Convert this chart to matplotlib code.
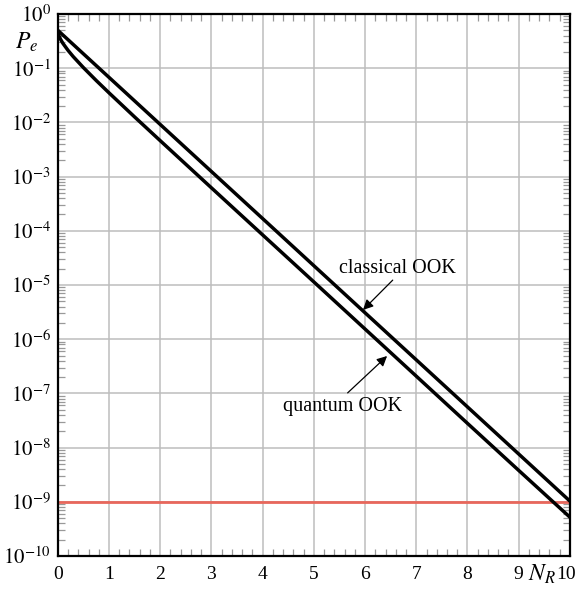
import matplotlib
matplotlib.use("Agg")
import matplotlib.pyplot as plt
import matplotlib.transforms as mtransforms
from matplotlib.ticker import LogLocator, MultipleLocator, NullFormatter

plt.rcParams['font.family'] = ['Liberation Serif', 'DejaVu Serif']
plt.rcParams['mathtext.fontset'] = 'stix'

# data
nr_classical = [0, 1, 2, 3, 4, 5, 6, 7, 8, 9, 10]
pe_classical = [0.5, 0.0677, 0.00916, 1.24e-3, 1.68e-4, 2.27e-5, 3.07e-6, 4.16e-7, 5.63e-8, 7.62e-9, 1.03e-9]

nr_quantum = [0, 0.02, 0.05, 0.1, 0.2, 0.3, 0.5, 0.75, 1, 1.5, 2, 3, 4, 5, 6, 7, 8, 9, 10]
pe_quantum = [0.5, 0.401, 0.346, 0.287, 0.213, 0.164, 0.1025, 0.0593, 0.0351, 0.0126, 0.0046,
              6.2e-4, 8.4e-5, 1.14e-5, 1.54e-6, 2.08e-7, 2.8e-8, 3.8e-9, 5.2e-10]

threshold = 1e-9
x_ticks = [0, 1, 2, 3, 4, 5, 6, 7, 8, 9, 10]
y_exps = list(range(0, -11, -1))

fig = plt.figure(figsize=(5.78, 5.90), dpi=100)
ax = fig.add_axes([0.100, 0.0576, 0.886, 0.9187])

ax.set_yscale('log')
ax.set_xlim(0, 10)
ax.set_ylim(1e-10, 1)

ax.grid(True, which='major', color='#bdbdbd', lw=1.1)
ax.set_axisbelow(True)

ax.axhline(threshold, color='#e8675c', lw=2.0, zorder=2)
ax.plot(nr_classical, pe_classical, color='black', lw=2.5, zorder=3, solid_capstyle='butt')
ax.plot(nr_quantum, pe_quantum, color='black', lw=2.5, zorder=3, solid_capstyle='butt')

ax.set_xticks(x_ticks)
ax.set_xticklabels([str(t) for t in x_ticks])
ax.xaxis.set_minor_locator(MultipleLocator(0.2))
ax.set_yticks([10.0**e for e in y_exps])
ax.set_yticklabels([r'$10^{%d}$' % e for e in y_exps])
ax.yaxis.set_minor_locator(LogLocator(base=10, subs=[2, 3, 4, 5, 6, 7, 8, 9], numticks=20))
ax.yaxis.set_minor_formatter(NullFormatter())

ax.tick_params(which='major', length=0, pad=7)
ax.tick_params(axis='x', which='major', labelsize=14)
ax.tick_params(axis='y', which='major', labelsize=15, pad=5)
ax.tick_params(which='minor', direction='in', length=5, width=0.9, color='#999999',
               top=True, right=True, bottom=True, left=True)

# nudge the last x tick label so it stays inside the canvas
last_lbl = ax.get_xticklabels()[-1]
last_lbl.set_transform(last_lbl.get_transform() +
                       mtransforms.ScaledTranslation(-2.5 / 72, 0, fig.dpi_scale_trans))

for s in ax.spines.values():
    s.set_linewidth(1.6)

ax.text(-0.06, 0.948, r'$P_e$', transform=ax.transAxes, fontsize=17, ha='center', va='center')
ax.text(9.45, 10**-10.33, r'$N_R$', fontsize=17, ha='center', va='center', clip_on=False)

ax.text(6.63, 10**-4.69, 'classical OOK', fontsize=14.5, ha='center', va='center')
ax.annotate('', xy=(5.96, 10**-5.46), xytext=(6.54, 10**-4.91),
            arrowprops=dict(arrowstyle='-|>', color='black', lw=0.9, mutation_scale=15,
                            shrinkA=0, shrinkB=0))
ax.text(5.57, 10**-7.25, 'quantum OOK', fontsize=14.5, ha='center', va='center')
ax.annotate('', xy=(6.43, 10**-6.31), xytext=(5.66, 10**-6.99),
            arrowprops=dict(arrowstyle='-|>', color='black', lw=0.9, mutation_scale=15,
                            shrinkA=0, shrinkB=0))

fig.savefig('out.png', dpi=100)
